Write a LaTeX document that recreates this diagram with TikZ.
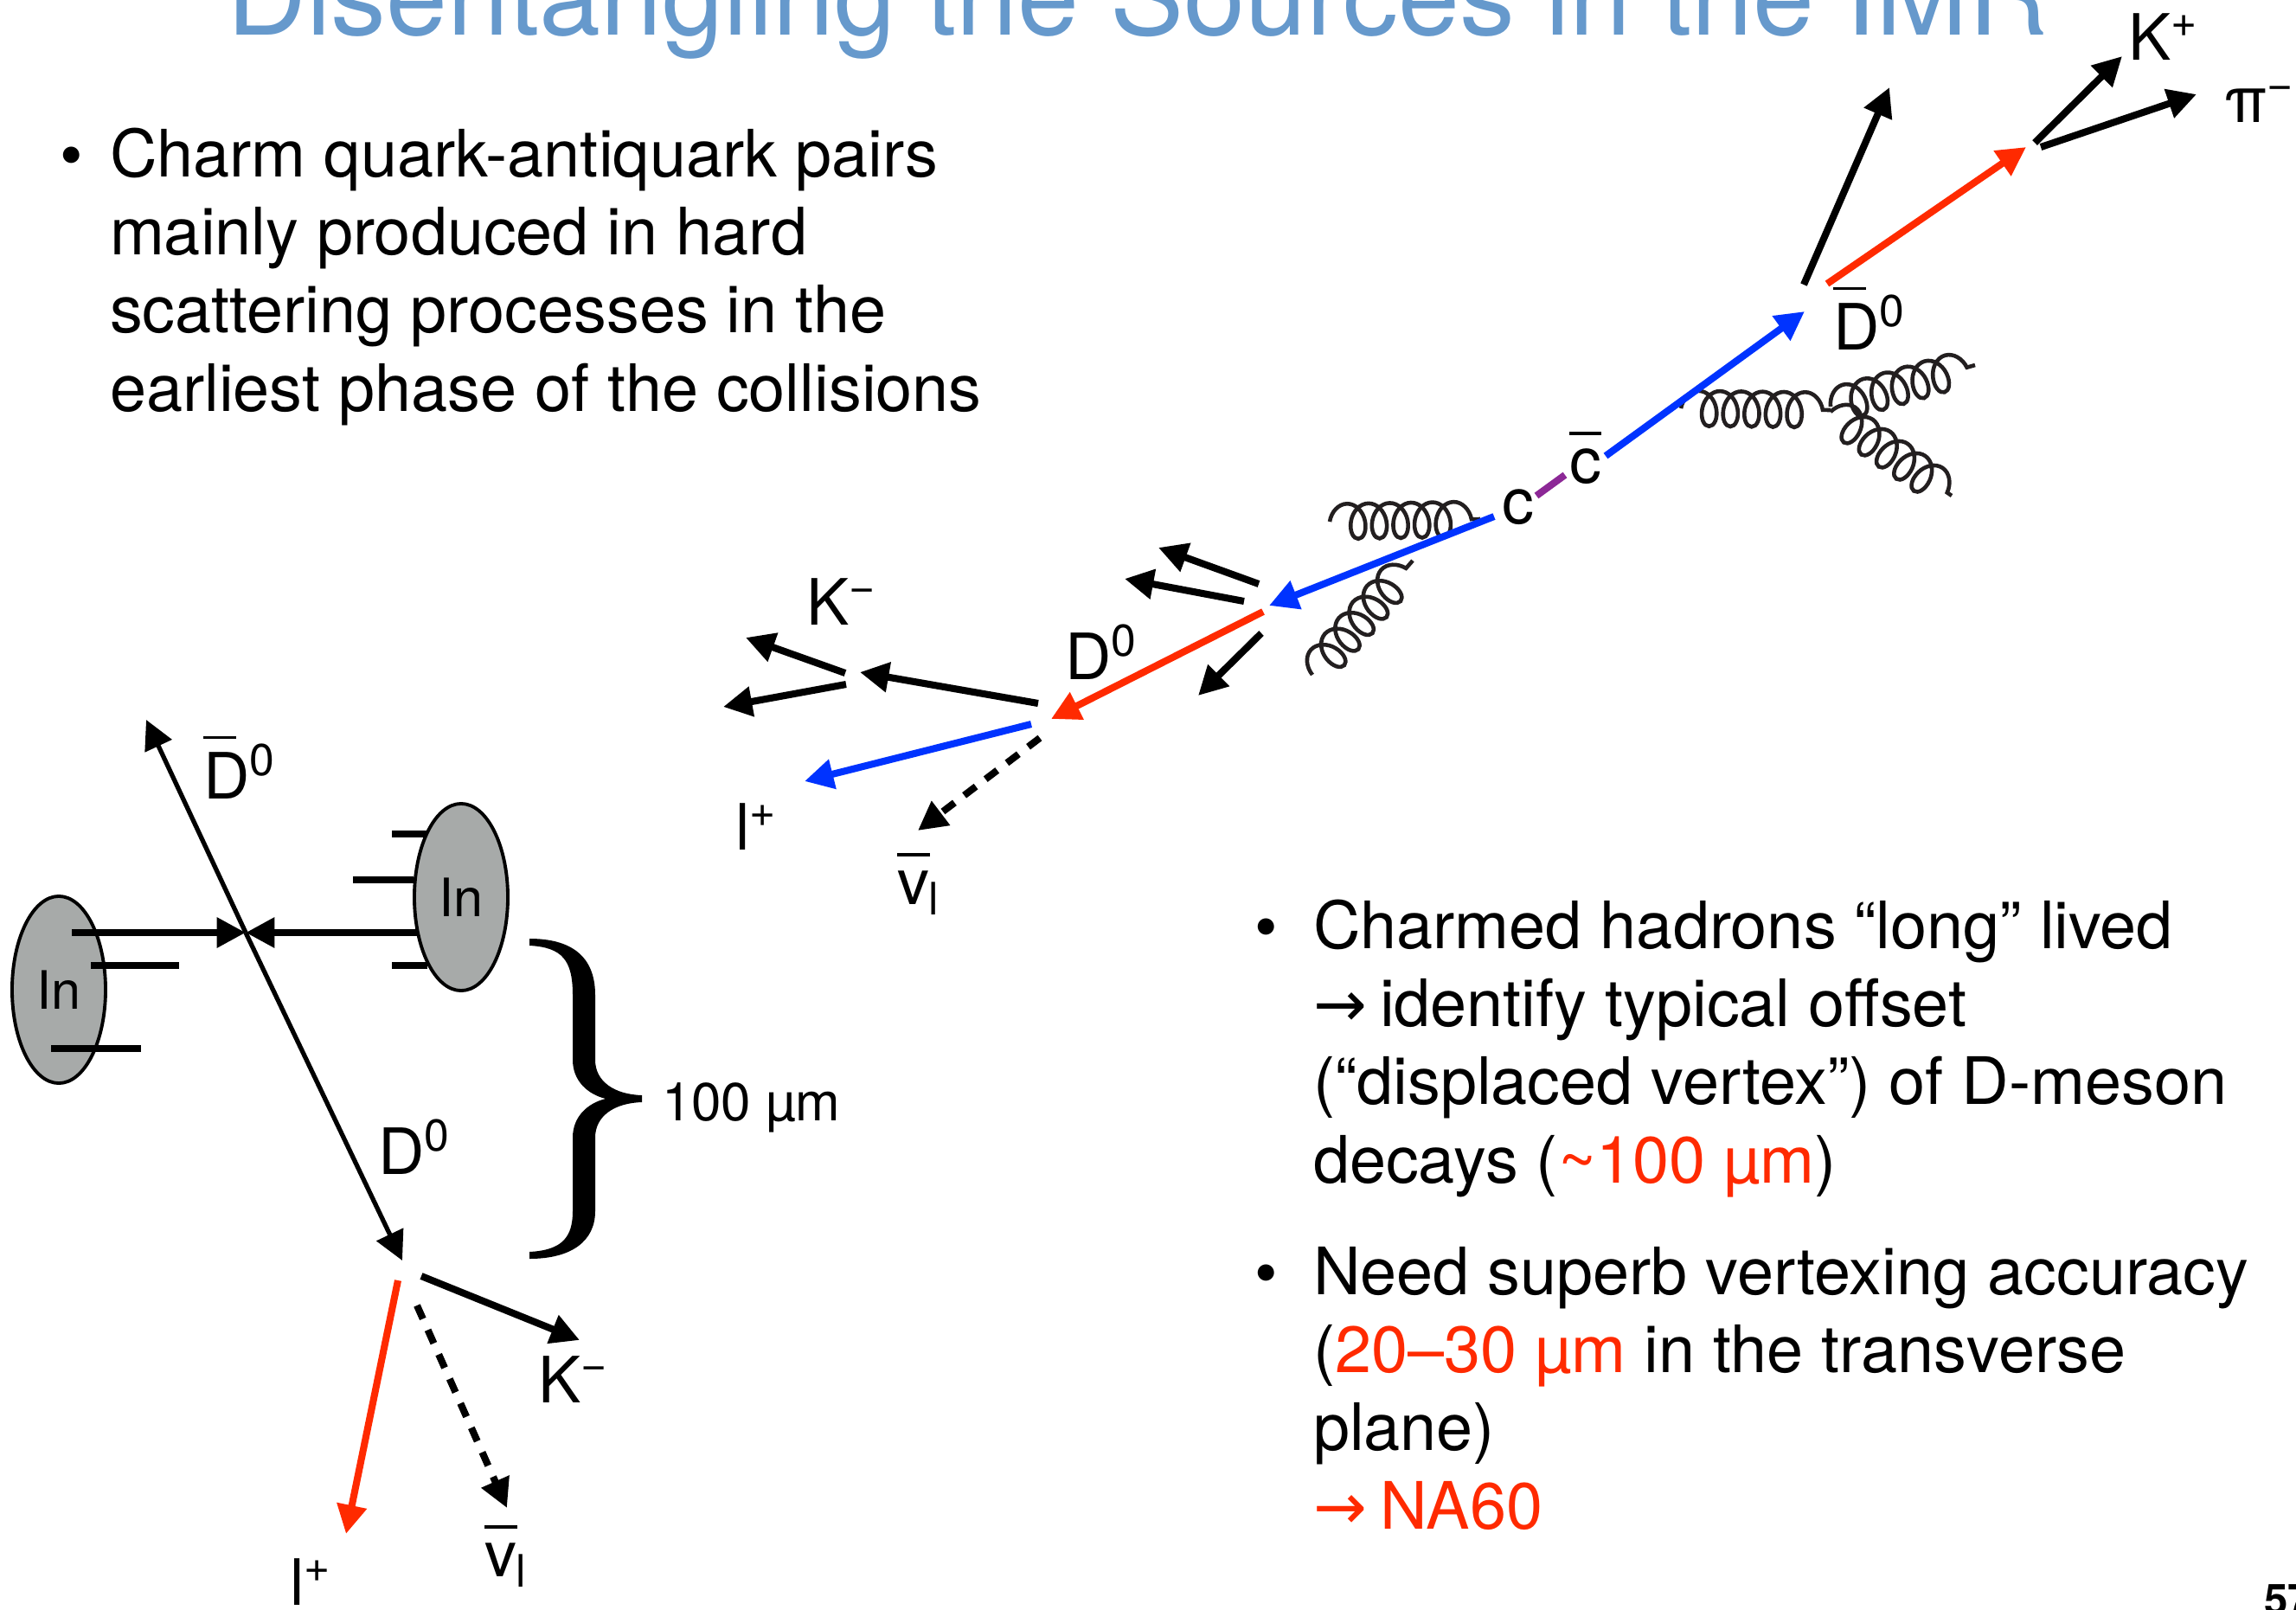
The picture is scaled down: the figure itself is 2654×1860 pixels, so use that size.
\documentclass[tikz,border=0pt]{standalone}
\usepackage{fontspec}
\setmainfont{TeX Gyre Heros}
\newfontfamily\arrowFont{DejaVu Sans}
\usetikzlibrary{shapes.geometric, arrows.meta, calc, decorations.pathmorphing}
\definecolor{trackRed}{RGB}{255,42,0}
\definecolor{trackBlue}{RGB}{0,51,255}
\definecolor{pairPurple}{RGB}{140,40,150}
\definecolor{nucleusGray}{RGB}{167,170,169}
\definecolor{gluonGray}{RGB}{35,31,32}
\definecolor{titleBlue}{RGB}{102,153,204}
\newcommand{\arrow}{{Triangle[length=9.5pt, width=9.5pt]}}
\newcommand{\lineWidth}{2.3pt}
\newcommand{\thinWidth}{1.5pt}
\newcommand{\rimWidth}{1.1pt}
\newcommand{\bodyFont}{\fontsize{21.5}{25.6}\selectfont}
\newcommand{\tagFont}{\fontsize{21}{25}\selectfont}
\newcommand{\smallTagFont}{\fontsize{17.4}{20}\selectfont}
\newcommand{\barred}[3][0.93em]{\leavevmode\rlap{\rule[#1]{#2}{0.05em}}#3}
\newcommand{\toArrow}{{\arrowFont\fontsize{21}{22}\selectfont →}\hspace{0.2em}}
\tikzstyle{panel}=[draw=none, inner sep=0, outer sep=0]
\tikzstyle{particle}=[panel, font=\tagFont, anchor=base west]
\tikzstyle{bodytext}=[panel, font=\bodyFont, anchor=base west, align=left]
\tikzstyle{line}=[draw=black, line width=\lineWidth]
\tikzstyle{track}=[line, -\arrow]
\tikzstyle{neutrino}=[track, dash pattern=on 4.8pt off 4pt]
\tikzstyle{gluon}=[draw=gluonGray, line width=1.3pt, decorate, decoration={coil, aspect=0.7, amplitude=5.8pt, segment length=7pt}]
\tikzstyle{nucleus}=[panel, ellipse, draw=black, line width=\rimWidth, fill=nucleusGray, minimum width=1.08cm, minimum height=2.16cm, font=\smallTagFont]

\begin{document}
\begin{tikzpicture}[x=0.01cm, y=-0.01cm]

% Frame
\useasboundingbox (0,0) rectangle (2654,1860);
\clip (0,0) rectangle (2654,1860);

% Heading and page number
\node[panel, font=\fontsize{36.3}{40}\selectfont, text=titleBlue, anchor=base west] (title) at (262,40) {Disentangling the Sources in the IMR};
\node[panel, font=\bfseries\fontsize{14}{16}\selectfont, anchor=base west] (page) at (2617,1866) {57};

% Bullets (multi-line nodes sit on their last baseline)
\node[bodytext] (dotA) at (70,205) {•};
\node[bodytext] (charm) at (127,475) {Charm quark-antiquark pairs\\mainly produced in hard\\scattering processes in the\\earliest phase of the collisions};
\node[bodytext] (dotB) at (1450,1097) {•};
\node[bodytext] (lived) at (1518,1367) {Charmed hadrons “long” lived\\\toArrow identify typical offset\\(“displaced vertex”) of D-meson\\decays ({\color{trackRed}\textasciitilde100 µm})};
\node[bodytext] (dotC) at (1450,1497) {•};
\node[bodytext] (vertexing) at (1518,1767) {Need superb vertexing accuracy\\({\color{trackRed}20–30 µm} in the transverse\\plane)\\{\color{trackRed}\toArrow NA60}};

% Pair production: c cbar and gluons
\node[particle] (quarkC) at (1736,605) {c};
\node[particle] (quarkCbar) at (1814,558) {\barred[0.75em]{0.5em}{c}};
\coordinate (pairA) at (1776,573);
\coordinate (pairB) at (1809,549);
\draw[line, draw=pairPurple] (pairA) -- (pairB);
\draw[gluon] (1537,603) -- (1711,600);
\draw[gluon] (1517,780) -- (1633,648);
\draw[gluon] (1943,472) -- (2116,474);
\draw[gluon] (2116,470) -- (2283,422);
\draw[gluon] (2116,476) -- (2256,573);

% Charm quark to the right: Dbar0 -> K+ pi-
\coordinate (cbarStart) at (1856,527);
\coordinate (dbarR) at (2086,360);
\draw[track, draw=trackBlue] (cbarStart) -- (dbarR);
\node[particle] (dbarTagR) at (2119,404) {\barred{0.52em}{D}\textsuperscript{0}};
\coordinate (jetStart) at (2085,329);
\coordinate (jetEnd) at (2184,101);
\draw[track] (jetStart) -- (jetEnd);
\coordinate (dbarStart) at (2112,328);
\coordinate (dbarDecay) at (2342,170);
\draw[track, draw=trackRed] (dbarStart) -- (dbarDecay);
\node[particle] (kaonPlus) at (2460,69) {K\textsuperscript{+}};
\node[particle] (pionMinus) at (2571,141) {π\textsuperscript{−}};
\coordinate (kaonStart) at (2352,165);
\coordinate (kaonEnd) at (2453,65);
\coordinate (pionStart) at (2359,170);
\coordinate (pionEnd) at (2539,109);
\draw[track] (kaonStart) -- (kaonEnd);
\draw[track] (pionStart) -- (pionEnd);

% Charm quark to the left: D0 -> K- l+ nu
\coordinate (cStart) at (1727,597);
\coordinate (dR) at (1467,700);
\draw[track, draw=trackBlue] (cStart) -- (dR);
\draw[track] (1455,675) -- (1339,633);
\draw[track] (1438,695) -- (1300,669);
\draw[track] (1458,732) -- (1385,804);
\coordinate (dStart) at (1460,707);
\coordinate (dDecay) at (1215,831);
\draw[track, draw=trackRed] (dStart) -- (dDecay);
\node[particle] (dTagR) at (1231,785) {D\textsuperscript{0}};
\coordinate (strangeStart) at (1200,813);
\coordinate (strangeEnd) at (994,777);
\draw[track] (strangeStart) -- (strangeEnd);
\draw[track] (977,778) -- (862,737);
\draw[track] (978,791) -- (836,817);
\node[particle] (kaonMinus) at (932,722) {K\textsuperscript{−}};
\coordinate (leptonStart) at (1192,837);
\coordinate (leptonEnd) at (930,903);
\draw[track, draw=trackBlue] (leptonStart) -- (leptonEnd);
\node[particle] (leptonTag) at (850,982) {l\textsuperscript{+}};
\coordinate (nuStart) at (1202,853);
\coordinate (nuEnd) at (1061,960);
\draw[neutrino] (nuStart) -- (nuEnd);
\node[particle] (nuTag) at (1037,1045) {\barred[0.75em]{0.52em}{v}\textsubscript{l}};

% Colliding nuclei
\node[nucleus] (inL) at (68,1144) {In};
\coordinate (collision) at (284,1078);
\coordinate (beamL) at (83,1078);
\coordinate (beamR) at (485,1078);
\draw[track] (beamL) -- (collision);
\draw[line] (105,1116) -- (207,1116);
\draw[line] (59,1212) -- (163,1212);
\draw[track] (beamR) -- (collision);
\draw[line] (453,964) -- (494,964);
\draw[line] (408,1017) -- (478,1017);
\draw[line] (453,1116) -- (494,1116);
\node[nucleus] (inR) at (533,1037) {In};

% D0 Dbar0 from the collision point
\coordinate (dbarTipL) at (169,832);
\coordinate (dDecayL) at (465,1457);
\draw[track, line width=\thinWidth] (collision) -- (dbarTipL);
\draw[track, line width=\thinWidth] (collision) -- (dDecayL);
\node[particle] (dbarTagL) at (235,923) {\barred{0.52em}{D}\textsuperscript{0}};
\node[particle] (dTagL) at (437,1357) {D\textsuperscript{0}};

% D0 decay
\coordinate (leptonStartL) at (460,1480);
\coordinate (leptonEndL) at (400,1773);
\coordinate (kaonStartL) at (487,1475);
\coordinate (kaonEndL) at (670,1549);
\coordinate (nuStartL) at (482,1509);
\coordinate (nuEndL) at (586,1743);
\draw[track, draw=trackRed] (leptonStartL) -- (leptonEndL);
\draw[track] (kaonStartL) -- (kaonEndL);
\draw[neutrino] (nuStartL) -- (nuEndL);
\node[particle] (kaonTagL) at (622,1621) {K\textsuperscript{−}};
\node[particle] (nuTagL) at (560,1822) {\barred[0.75em]{0.52em}{v}\textsubscript{l}};
\node[particle] (leptonTagL) at (335,1855) {l\textsuperscript{+}};

% Decay length brace
\fill (612,1085) .. controls (660,1085) and (688,1105) .. (688,1150) -- (688,1225)
  .. controls (688,1250) and (710,1265) .. (742,1266) -- (742,1274)
  .. controls (710,1275) and (688,1290) .. (688,1315) -- (688,1400)
  .. controls (688,1435) and (660,1455) .. (612,1455) -- (612,1447)
  .. controls (650,1445) and (662,1430) .. (662,1400) -- (662,1315)
  .. controls (662,1290) and (680,1275) .. (700,1270)
  .. controls (680,1265) and (662,1250) .. (662,1225) -- (662,1150)
  .. controls (662,1110) and (650,1095) .. (612,1093) -- cycle;
\node[panel, font=\fontsize{17.6}{20}\selectfont, anchor=base west] (decayLength) at (765,1295) {100 µm};

\end{tikzpicture}
\end{document}
